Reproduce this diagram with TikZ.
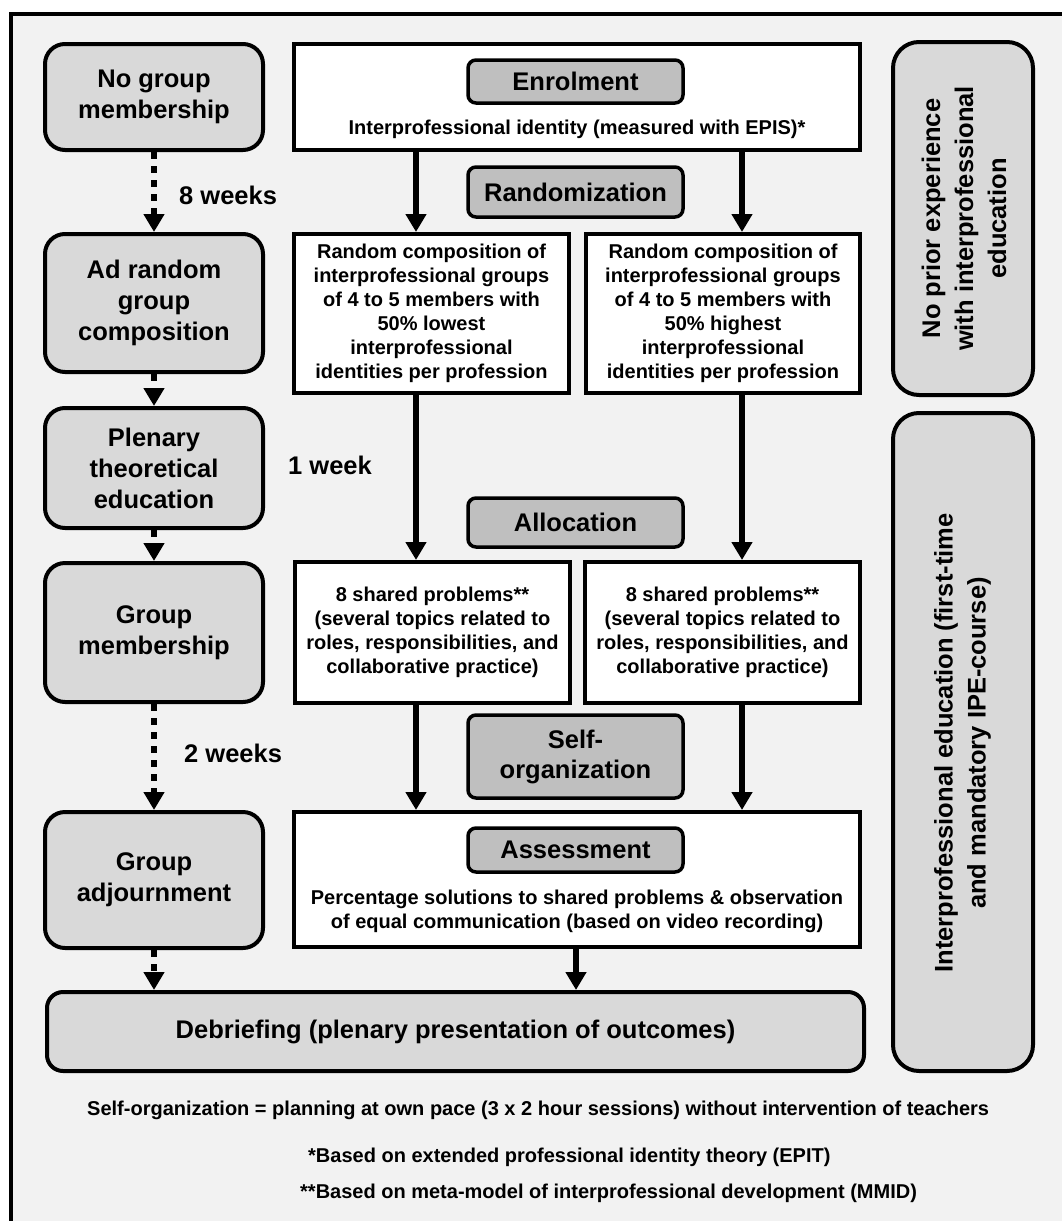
\documentclass[tikz,border=0pt]{standalone}
\usepackage{fontspec}
\setmainfont{Liberation Sans}
\usetikzlibrary{arrows.meta}
\definecolor{bg}{HTML}{F2F2F2}
\definecolor{boxgray}{HTML}{D9D9D9}
\definecolor{labgray}{HTML}{BFBFBF}
\tikzset{
  phase/.style={draw=black, line width=4pt, fill=boxgray, rounded corners=20pt,
    align=center, inner sep=0pt, font=\fontsize{25.5}{31}\selectfont\bfseries},
  sidebox/.style={draw=black, line width=4pt, fill=boxgray, rounded corners=26pt,
    inner sep=0pt, minimum width=140pt},
  sidetext/.style={rotate=90, align=center, inner sep=0pt,
    font=\fontsize{25.5}{33}\selectfont\bfseries},
  whitebox/.style={draw=black, line width=4pt, fill=white, inner sep=0pt,
    align=center, font=\fontsize{20}{24}\selectfont\bfseries},
  labelbox/.style={draw=black, line width=3.5pt, fill=labgray, rounded corners=8pt,
    inner sep=0pt, minimum width=215pt, align=center,
    font=\fontsize{25.5}{30}\selectfont\bfseries},
  plaintext/.style={inner sep=0pt, align=center, font=\fontsize{20}{24}\selectfont\bfseries},
  weektext/.style={inner sep=0pt, anchor=west, font=\fontsize{25.5}{31}\selectfont\bfseries},
  arr/.style={line width=6pt, -{Triangle[width=20pt,length=18pt]}},
  dotarr/.style={line width=6.5pt, dash pattern=on 7pt off 7pt, -{Triangle[width=20pt,length=18pt]}}
}
\begin{document}
\begin{tikzpicture}[x=1pt,y=-1pt]
\useasboundingbox (0,0) rectangle (1062,1221);
\fill[white] (0,0) rectangle (1062,1221);
\fill[bg] (10,14) rectangle (1062,1221);
\draw[line width=4pt] (10.5,1221) -- (10.5,14) -- (1062,14);

% left column
\node[phase, minimum width=218pt, minimum height=106pt] (ng) at (154,97) {No group\\membership};
\node[phase, minimum width=218pt, minimum height=138pt] (ar) at (154,303) {Ad random\\group\\composition};
\node[phase, minimum width=218pt, minimum height=120pt] (pt) at (154,468) {Plenary\\theoretical\\education};
\node[phase, minimum width=218pt, minimum height=139pt] (gm) at (154,632.5) {Group\\membership};
\node[phase, minimum width=218pt, minimum height=136pt] (ga) at (154,880) {Group\\adjournment};
\node[phase, rounded corners=16pt, minimum width=817pt, minimum height=79pt] (db) at (455.5,1031.5) {Debriefing (plenary presentation of outcomes)};

\node[weektext] (w8) at (179,195) {8 weeks};
\node[weektext] (w1) at (288,465) {1 week};
\node[weektext] (w2) at (184,753) {2 weeks};

% middle column
\node[whitebox, minimum width=566pt, minimum height=106pt] (enrol) at (577,97) {};
\node[plaintext] (enroltxt) at (577,129) {Interprofessional identity (measured with EPIS)*};
\node[labelbox, minimum height=43pt] (lenrol) at (575.5,81.5) {Enrolment};
\node[labelbox, minimum height=50pt] (lrand) at (575.5,192) {Randomization};

\node[whitebox, minimum width=275pt, minimum height=159pt] (rl) at (431.5,313.5)
  {Random composition of\\interprofessional groups\\of 4 to 5 members with\\50\% lowest\\interprofessional\\identities per profession};
\node[whitebox, minimum width=274pt, minimum height=159pt] (rr) at (723,313.5)
  {Random composition of\\interprofessional groups\\of 4 to 5 members with\\50\% highest\\interprofessional\\identities per profession};

\node[labelbox, minimum height=49pt] (lalloc) at (575.5,522.5) {Allocation};

\node[whitebox, minimum width=275pt, minimum height=141pt] (sl) at (432.5,632.5)
  {8 shared problems**\\(several topics related to\\roles, responsibilities, and\\collaborative practice)};
\node[whitebox, minimum width=275pt, minimum height=141pt] (sr) at (722.5,632.5)
  {8 shared problems**\\(several topics related to\\roles, responsibilities, and\\collaborative practice)};

\node[labelbox, minimum height=83pt] (lself) at (575.5,756.5) {Self-\\organization};

\node[whitebox, minimum width=566pt, minimum height=135pt] (as) at (577,879.5) {};
\node[labelbox, minimum height=44pt] (lassess) at (575.5,850) {Assessment};
\node[plaintext] (astxt) at (577,911) {Percentage solutions to shared problems \& observation\\of equal communication (based on video recording)};

% right column
\node[sidebox, minimum height=353pt] (np) at (963,218.5) {};
\node[sidetext] (nptxt) at (964,218.5) {No prior experience\\with interprofessional\\education};
\node[sidebox, minimum height=658pt] (ie) at (963,742) {};
\node[sidetext] (ietxt) at (962.5,743) {Interprofessional education (first-time\\and mandatory IPE-course)};

% footnotes
\node[plaintext, anchor=west] (fn1) at (87,1110) {Self-organization = planning at own pace (3 x 2 hour sessions) without intervention of teachers};
\node[plaintext, anchor=west] (fn2) at (308,1157) {*Based on extended professional identity theory (EPIT)};
\node[plaintext, anchor=west] (fn3) at (300,1193) {**Based on meta-model of interprofessional development (MMID)};

% connectors
\coordinate (xa) at (416,0);
\coordinate (xb) at (742,0);
\coordinate (xc) at (576,0);
\draw[arr] (xa |- enrol.south) -- (xa |- rl.north);
\draw[arr] (xb |- enrol.south) -- (xb |- rr.north);
\draw[arr] (xa |- rl.south) -- (xa |- sl.north);
\draw[arr] (xb |- rr.south) -- (xb |- sr.north);
\draw[arr] (xa |- sl.south) -- (xa |- as.north);
\draw[arr] (xb |- sr.south) -- (xb |- as.north);
\draw[arr] (xc |- as.south) -- (xc |- db.north);

\draw[dotarr] (ng.south) -- (ar.north);
\draw[dotarr] (ar.south) -- (pt.north);
\draw[dotarr] (pt.south) -- (gm.north);
\draw[dotarr] (gm.south) -- (ga.north);
\draw[dotarr] (ga.south) -- (ga.south |- db.north);
\end{tikzpicture}
\end{document}
